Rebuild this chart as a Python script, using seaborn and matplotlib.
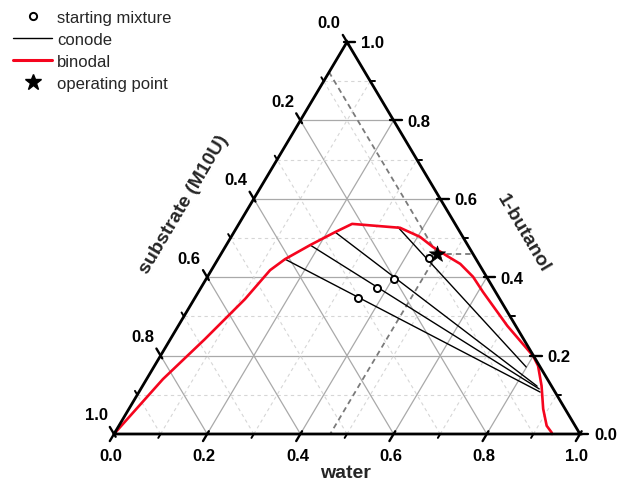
import numpy as np
import pandas as pd
import matplotlib
matplotlib.use("Agg")
import matplotlib.pyplot as plt
import seaborn as sns
from matplotlib.lines import Line2D

# ---------------- data (ternary: water, 1-butanol; substrate = 1 - water - butanol)
binodal_water = [0.000, 0.035, 0.074, 0.109, 0.126, 0.144, 0.180, 0.217, 0.243, 0.351,
                 0.405, 0.446, 0.488, 0.526, 0.570, 0.611, 0.706, 0.778, 0.800, 0.823,
                 0.856, 0.889, 0.918, 0.937, 0.940]
binodal_butanol = [0.000, 0.140, 0.242, 0.344, 0.418, 0.446, 0.482, 0.515, 0.536, 0.526,
                   0.503, 0.477, 0.454, 0.434, 0.401, 0.362, 0.276, 0.217, 0.199, 0.174,
                   0.123, 0.064, 0.021, 0.004, 0.000]

conode_start_water = [0.144, 0.180, 0.217, 0.345]
conode_start_butanol = [0.446, 0.482, 0.515, 0.528]
conode_end_water = [0.861, 0.855, 0.847, 0.799]
conode_end_butanol = [0.107, 0.115, 0.122, 0.171]

mixture_water = [0.350, 0.378, 0.403, 0.451]
mixture_butanol = [0.347, 0.372, 0.395, 0.449]

operating_water = [0.464]
operating_butanol = [0.459]

tick_values = [0.0, 0.2, 0.4, 0.6, 0.8, 1.0]
tick_labels = ["0.0", "0.2", "0.4", "0.6", "0.8", "1.0"]
minor_values = [0.1, 0.3, 0.5, 0.7, 0.9]

legend_labels = ["starting mixture", "conode", "binodal", "operating point"]
axis_titles = {"bottom": "water", "right": "1-butanol", "left": "substrate (M10U)"}

RED = "#f5051e"


def to_xy(w, b):
    w = np.asarray(w, dtype=float)
    b = np.asarray(b, dtype=float)
    return w + 0.5 * b, b


sns.set_style("white")
plt.rcParams["font.family"] = ["Liberation Sans", "DejaVu Sans"]

W, H = 618, 481
fig = plt.figure(figsize=(W / 100, H / 100), dpi=100)
ax = fig.add_axes([114 / W, 46 / H, 466 / W, 392 / H])
ax.set_xlim(0, 1)
ax.set_ylim(0, 1)
ax.axis("off")

# ---------------- grid
for i in range(1, 10):
    v = i / 10
    if i % 2 == 0:
        kw = dict(color="#a9a9a9", lw=0.9, ls="-")
    else:
        kw = dict(color="#d6d6d6", lw=0.8, ls=(0, (3, 3)))
    for (w0, b0), (w1, b1) in [((0, v), (1 - v, v)),
                               ((v, 0), (v, 1 - v)),
                               ((1 - v, 0), (0, 1 - v))]:
        x, y = to_xy([w0, w1], [b0, b1])
        ax.plot(x, y, zorder=1, **kw)

# ---------------- binodal
bx, by = to_xy(binodal_water, binodal_butanol)
sns.lineplot(x=bx, y=by, sort=False, estimator=None, color=RED, lw=1.9,
             ax=ax, zorder=4, clip_on=False)

# ---------------- conodes
rows = []
for k in range(len(conode_start_water)):
    for w, b in [(conode_start_water[k], conode_start_butanol[k]),
                 (conode_end_water[k], conode_end_butanol[k])]:
        x, y = to_xy(w, b)
        rows.append({"x": float(x), "y": float(y), "id": k})
cdf = pd.DataFrame(rows)
sns.lineplot(data=cdf, x="x", y="y", units="id", estimator=None, sort=False,
             color="black", lw=1.0, ax=ax, zorder=3, legend=False)

# ---------------- reading lines from operating point
ow, ob = operating_water[0], operating_butanol[0]
for (w0, b0), (w1, b1) in [((ow, ob), (1 - ob, ob)),
                           ((ow, ob), (ow, 0)),
                           ((ow, ob), (0, ow + ob))]:
    x, y = to_xy([w0, w1], [b0, b1])
    ax.plot(x, y, color="#7a7a7a", lw=1.3, ls=(0, (3, 2.2)), zorder=2)

# ---------------- starting mixtures and operating point
mx, my = to_xy(mixture_water, mixture_butanol)
sns.scatterplot(x=mx, y=my, marker="o", s=26, facecolor="white",
                edgecolor="black", linewidth=1.4, ax=ax, zorder=6)
ox, oy = to_xy(operating_water, operating_butanol)
sns.scatterplot(x=ox, y=oy, marker="*", s=150, color="black",
                edgecolor="black", linewidth=0.5, ax=ax, zorder=7)

# ---------------- triangle frame
tx, ty = to_xy([0, 1, 0, 0], [0, 0, 1, 0])
ax.plot(tx, ty, color="black", lw=2.0, zorder=8, clip_on=False,
        solid_joinstyle="miter")

# ---------------- ticks
def tick(p, d, out, inn, lw):
    x0, y0 = p
    dx, dy = d
    ax.plot([x0 - dx * inn, x0 + dx * out], [y0 - dy * inn, y0 + dy * out],
            color="black", lw=lw, zorder=8, clip_on=False)

for vals, out, inn, lw in [(tick_values, 0.018, 0.007, 1.7), (minor_values, 0.010, 0.0, 1.4)]:
    for v in vals:
        tick(to_xy(v, 0), (-0.5, -1.0), out, inn, lw)
        tick(to_xy(1 - v, v), (1.0, 0.0), out, inn, lw)
        tick(to_xy(0, 1 - v), (-0.5, 1.0), out, inn, lw)

lab_kw = dict(fontsize=12, fontweight="bold", color="black",
              textcoords="offset pixels", annotation_clip=False)
for v, t in zip(tick_values, tick_labels):
    ax.annotate(t, xy=to_xy(v, 0), xytext=(-3, -22), ha="center", va="center", **lab_kw)
    ax.annotate(t, xy=to_xy(1 - v, v), xytext=(14, -1), ha="left", va="center", **lab_kw)
    ax.annotate(t, xy=to_xy(0, 1 - v), xytext=(-18, 19), ha="center", va="center", **lab_kw)

# ---------------- axis titles
title_kw = dict(fontsize=14, fontweight="bold", ha="center", va="center",
                rotation_mode="anchor")
fig.text(345 / W, 1 - 474 / H, axis_titles["bottom"], **title_kw)
fig.text(523 / W, 1 - 233 / H, axis_titles["right"], rotation=-59.3, **title_kw)
fig.text(184 / W, 1 - 205 / H, axis_titles["left"], rotation=59.3, **title_kw)

# ---------------- legend
handles = [
    Line2D([], [], marker="o", ls="none", mfc="white", mec="black", ms=5.2, mew=1.4),
    Line2D([], [], color="black", lw=1.0),
    Line2D([], [], color=RED, lw=2.2),
    Line2D([], [], marker="*", ls="none", color="black", ms=12),
]
fig.legend(handles, legend_labels, loc="upper left",
           bbox_to_anchor=(13 / W, 1 - 11 / H), bbox_transform=fig.transFigure,
           frameon=False, fontsize=12, borderpad=0, borderaxespad=0,
           handlelength=2.35, handletextpad=0.3, labelspacing=0.42)

fig.savefig("out.png", dpi=100)
